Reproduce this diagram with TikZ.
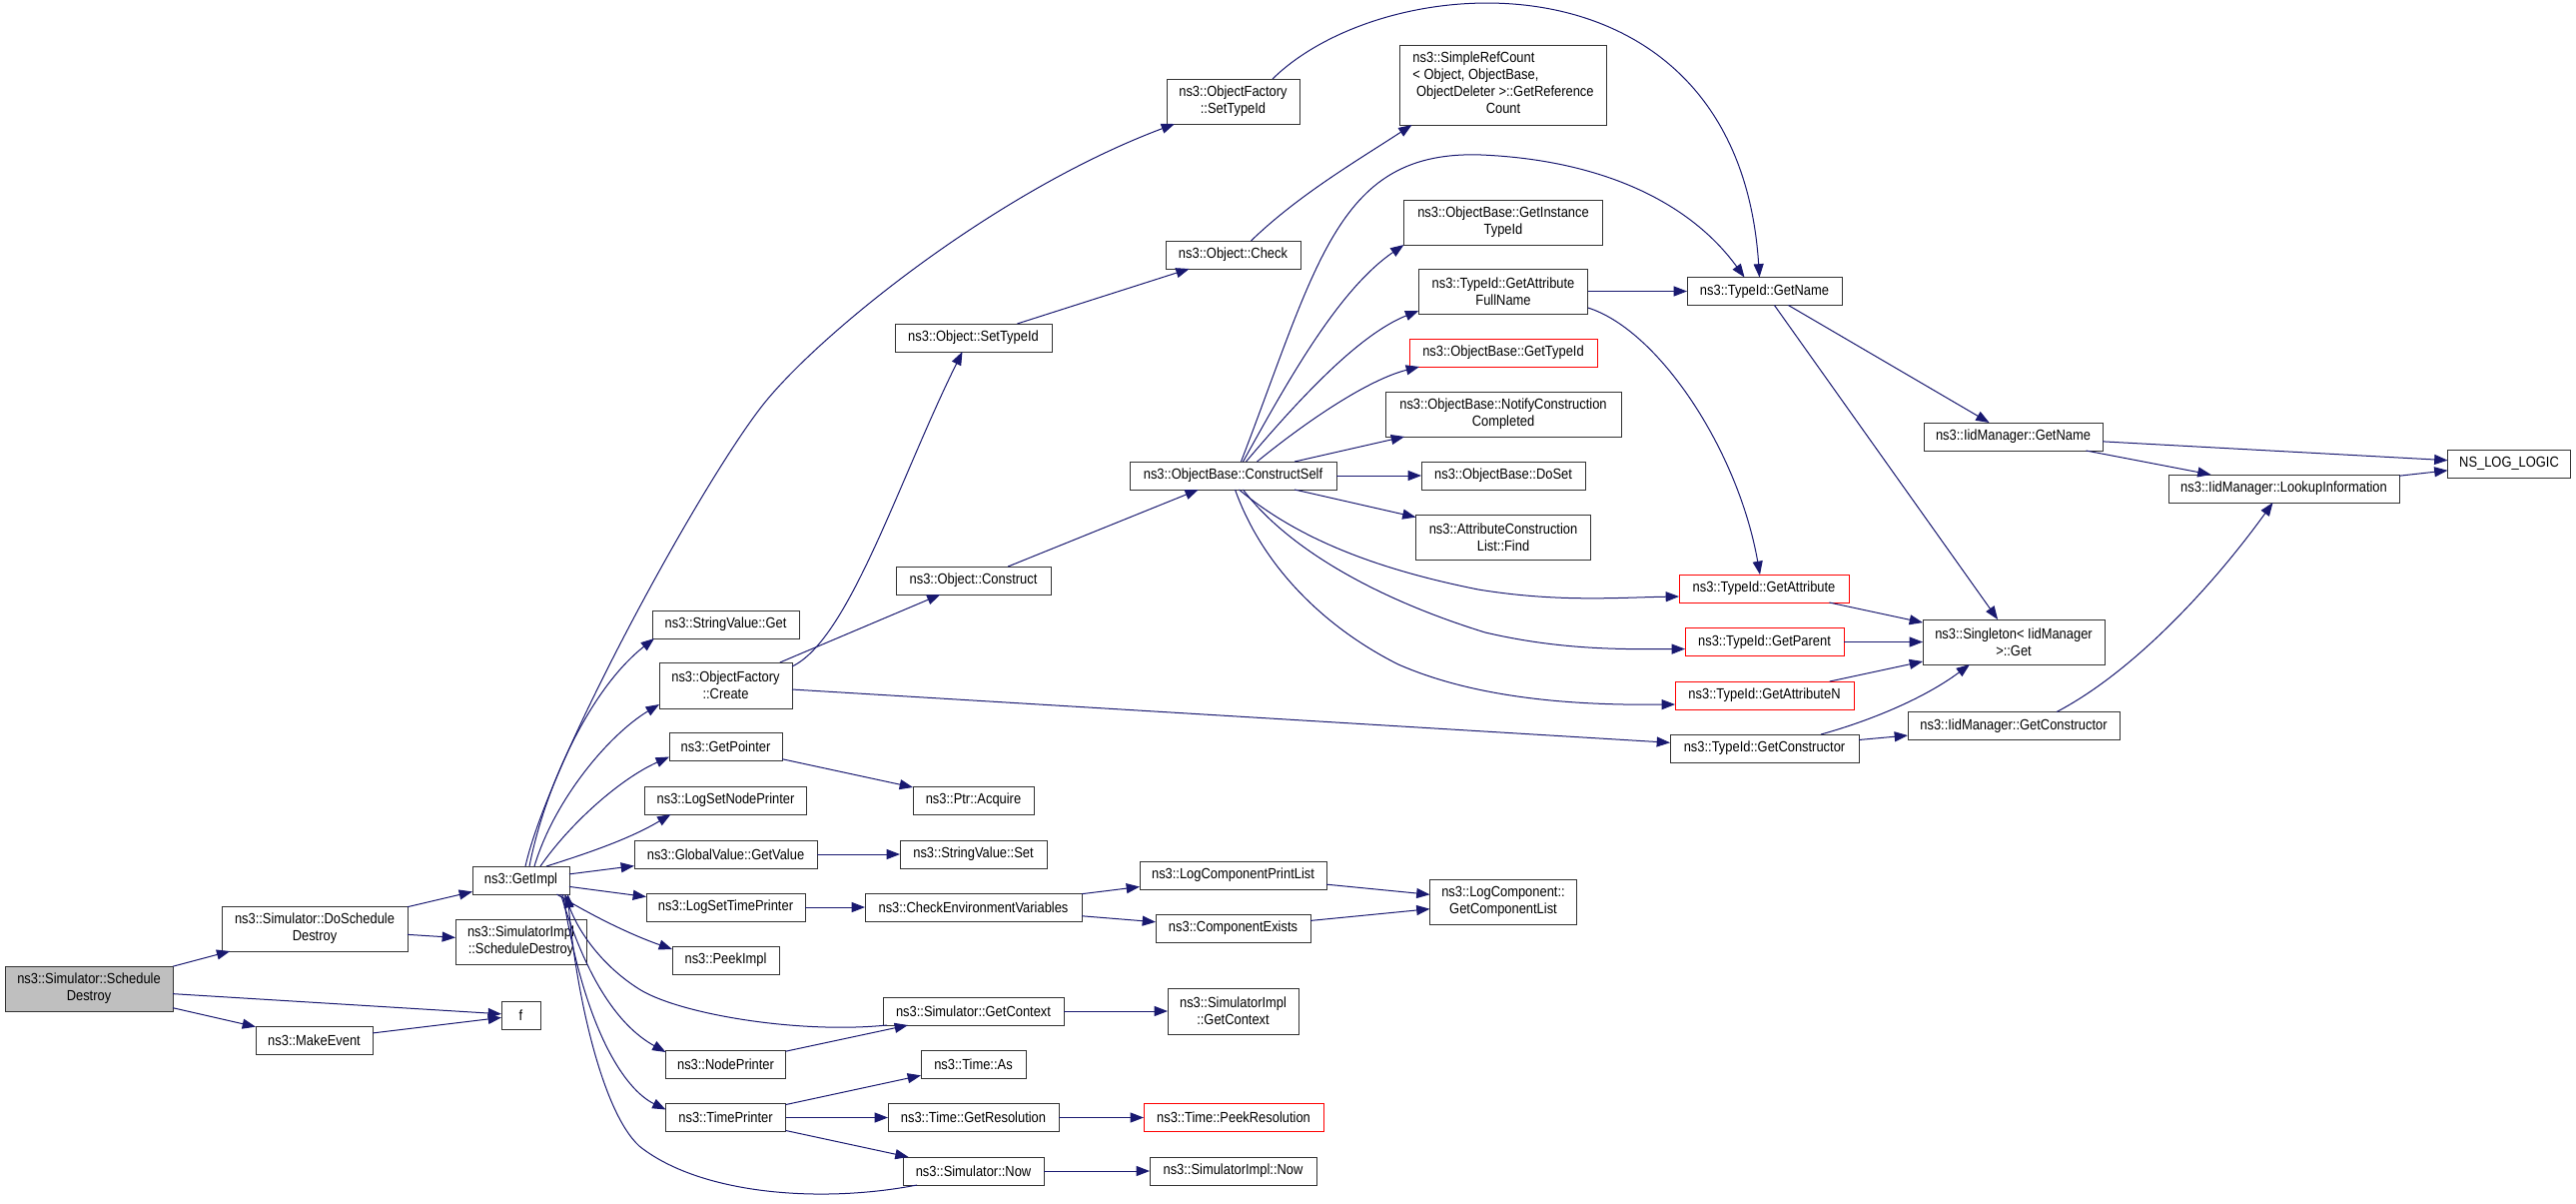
\documentclass[tikz,border=0pt]{standalone}
\usepackage{fontspec}
\newfontfamily\nodefam{Liberation Sans}[FakeStretch=0.88]
\usetikzlibrary{arrows.meta,calc}
\definecolor{edgec}{HTML}{191970}
\definecolor{rootfill}{HTML}{BFBFBF}
\definecolor{boxline}{HTML}{333333}
\definecolor{redline}{HTML}{FF0000}
\newcommand\nodefont{\nodefam\fontsize{11}{12.75}\selectfont}
\begin{document}
\begin{tikzpicture}[x=0.75pt,y=-0.75pt,
  box/.style={draw=boxline,line width=0.75pt,inner sep=0pt,outer sep=0pt,align=center,font=\nodefont,fill=white},
  wh/.style 2 args={minimum width=#1*0.75pt,minimum height=#2*0.75pt},
  redbox/.style={box,draw=redline},
  rootbox/.style={box,fill=rootfill},
  calls/.style={draw=edgec,line width=0.75pt,-{Triangle[length=10pt,width=7.5pt]}}]
\useasboundingbox[fill=white] (0,0) rectangle (2579,1204);

% rank 1-2
\node[rootbox,wh={168}{45}] (SD) at (89,989.5) {ns3::Simulator::Schedule\\Destroy};
\node[box,wh={186}{45}] (DSD) at (315,929.5) {ns3::Simulator::DoSchedule\\Destroy};
\node[box,wh={117}{28}] (ME) at (314.5,1041) {ns3::MakeEvent};
\node[box,wh={97}{28}] (GI) at (521.5,881) {ns3::GetImpl};
\node[box,wh={131}{45}] (SIS) at (521.5,942.5) {ns3::SimulatorImpl\\::ScheduleDestroy};
\node[box,wh={39}{28}] (F) at (521.5,1016) {f};
% rank 3
\node[box,wh={147}{28}] (SVG) at (726.5,625) {ns3::StringValue::Get};
\node[box,wh={133}{46}] (OFC) at (726.5,686) {ns3::ObjectFactory\\::Create};
\node[box,wh={113}{28}] (GP) at (726.5,747.5) {ns3::GetPointer};
\node[box,wh={162}{28}] (LSNP) at (726.5,801) {ns3::LogSetNodePrinter};
\node[box,wh={183}{28}] (GVGV) at (726.5,855) {ns3::GlobalValue::GetValue};
\node[box,wh={159}{28}] (LSTP) at (726.5,908) {ns3::LogSetTimePrinter};
\node[box,wh={107}{28}] (PI) at (726.5,961) {ns3::PeekImpl};
\node[box,wh={120}{28}] (NP) at (726.5,1065) {ns3::NodePrinter};
\node[box,wh={120}{28}] (TP) at (726.5,1118.5) {ns3::TimePrinter};
% rank 4
\node[box,wh={157}{28}] (OST) at (974.5,338) {ns3::Object::SetTypeId};
\node[box,wh={155}{28}] (OC) at (974.5,581) {ns3::Object::Construct};
\node[box,wh={121}{28}] (PA) at (974.5,801) {ns3::Ptr::Acquire};
\node[box,wh={147}{28}] (SVS) at (974.5,855) {ns3::StringValue::Set};
\node[box,wh={217}{28}] (CEV) at (974.5,908) {ns3::CheckEnvironmentVariables};
\node[box,wh={181}{28}] (SGC) at (974.5,1012) {ns3::Simulator::GetContext};
\node[box,wh={105}{28}] (TA) at (974.5,1065) {ns3::Time::As};
\node[box,wh={171}{28}] (TGR) at (974.5,1118.5) {ns3::Time::GetResolution};
\node[box,wh={141}{28}] (SN) at (974.5,1172) {ns3::Simulator::Now};
% rank 5
\node[box,wh={133}{45}] (OFST) at (1234.5,101.5) {ns3::ObjectFactory\\::SetTypeId};
\node[box,wh={135}{28}] (OCk) at (1234.5,255) {ns3::Object::Check};
\node[box,wh={207}{28}] (OBCS) at (1234.5,476) {ns3::ObjectBase::ConstructSelf};
\node[box,wh={187}{28}] (LCPL) at (1234.5,876) {ns3::LogComponentPrintList};
\node[box,wh={155}{28}] (CE) at (1234.5,929) {ns3::ComponentExists};
\node[box,wh={131}{46}] (SIGC) at (1234.5,1012) {ns3::SimulatorImpl\\::GetContext};
\node[redbox,wh={180}{28}] (TPR) at (1235,1118.5) {ns3::Time::PeekResolution};
\node[box,wh={167}{28}] (SIN) at (1234.5,1172) {ns3::SimulatorImpl::Now};
% rank 6
\node[box,wh={207}{80}] (SRC) at (1505,85) {\begin{tabular}{@{}l@{}}ns3::SimpleRefCount\\< Object, ObjectBase,\\\ ObjectDeleter >::GetReference\\\multicolumn{1}{@{}c@{}}{Count}\end{tabular}};
\node[box,wh={199}{45}] (GIT) at (1505,222.5) {ns3::ObjectBase::GetInstance\\TypeId};
\node[box,wh={169.5}{45}] (GAFN) at (1505,291.5) {ns3::TypeId::GetAttribute\\FullName};
\node[redbox,wh={188}{28}] (OBGT) at (1505,353) {ns3::ObjectBase::GetTypeId};
\node[box,wh={236}{45}] (NCC) at (1505,414.5) {ns3::ObjectBase::NotifyConstruction\\Completed};
\node[box,wh={164}{28}] (DS) at (1505,476) {ns3::ObjectBase::DoSet};
\node[box,wh={175}{45}] (ACLF) at (1505,537.5) {ns3::AttributeConstruction\\List::Find};
\node[box,wh={147}{45}] (LCGCL) at (1505,902.5) {ns3::LogComponent::\\GetComponentList};
% rank 7
\node[box,wh={155}{28}] (TGN) at (1766.5,291.5) {ns3::TypeId::GetName};
\node[redbox,wh={170}{28}] (TGA) at (1766,589) {ns3::TypeId::GetAttribute};
\node[redbox,wh={159}{28}] (TGP) at (1766.5,642.5) {ns3::TypeId::GetParent};
\node[redbox,wh={179}{28}] (TGAN) at (1766.5,696) {ns3::TypeId::GetAttributeN};
\node[box,wh={189}{28}] (TGC) at (1766.5,749) {ns3::TypeId::GetConstructor};
% rank 8+
\node[box,wh={179}{28}] (IGN) at (2015.5,437) {ns3::IidManager::GetName};
\node[box,wh={182}{45}] (SG) at (2016,642.5) {ns3::Singleton< IidManager\\>::Get};
\node[box,wh={212}{28}] (IGC) at (2016,726.5) {ns3::IidManager::GetConstructor};
\node[box,wh={231}{28}] (ILI) at (2286.5,489) {ns3::IidManager::LookupInformation};
\node[box,wh={123}{28}] (NLL) at (2512,464) {NS\_LOG\_LOGIC};

% straight edges
\foreach \a/\b in {SD/DSD,SD/F,SD/ME,ME/F,DSD/GI,DSD/SIS,GI/GVGV,GI/LSTP,
  OFC/OC,OFC/TGC,GP/PA,GVGV/SVS,LSTP/CEV,CEV/LCPL,CEV/CE,LCPL/LCGCL,CE/LCGCL,
  NP/SGC,SGC/SIGC,TP/TA,TP/TGR,TP/SN,TGR/TPR,SN/SIN,OC/OBCS,OST/OCk,
  OBCS/NCC,OBCS/DS,OBCS/ACLF,GAFN/TGN,TGN/IGN,TGN/SG,TGA/SG,TGP/SG,TGAN/SG,
  TGC/IGC,IGN/NLL,IGN/ILI,ILI/NLL}
  \draw[calls] (\a) -- (\b);

% curved edges from GetImpl
\draw[calls] ($(GI.north)+(4.5,0)$) .. controls (550,760) and (708,472) .. (768,400)
  .. controls (828,328) and (1000,190) .. ($(OFST.south west)+(8,0)$);
\draw[calls] ($(GI.north)+(8.5,0)$) .. controls (545,790) and (590,690) .. ($(SVG.south west)+(2,0)$);
\draw[calls] ($(GI.north)+(13.5,0)$) .. controls (555,800) and (610,735) .. ($(OFC.south west)+(0,-4)$);
\draw[calls] ($(GI.north)+(19.5,0)$) .. controls (570,825) and (620,780) .. ($(GP.south west)+(0,-4)$);
\draw[calls] ($(GI.north)+(25.5,0)$) .. controls (585,855) and (630,840) .. ($(LSNP.south west)+(26,0)$);
\draw[calls] ($(GI.south)+(36,0)$) .. controls (590,915) and (630,935) .. ($(PI.north west)+(0,3)$);
\draw[calls] ($(GI.south)+(40,0)$) .. controls (590,990) and (625,1030) .. ($(NP.north west)+(0,2)$);
\draw[calls] ($(GI.south)+(42,0)$) .. controls (585,1030) and (625,1090) .. ($(TP.north west)+(0,6)$);
\draw[calls] ($(SGC.south west)+(4,0)$) .. controls (800,1035) and (680,1015) .. (640,990)
  .. controls (605,968) and (580,935) .. ($(GI.south)+(44,0)$);
\draw[calls] ($(SN.south west)+(14,0)$) .. controls (820,1205) and (700,1195) .. (640,1147)
  .. controls (600,1110) and (575,980) .. ($(GI.south)+(47,0)$);

% other curved edges
\draw[calls] ($(OFC.north east)+(0,4)$) .. controls (850,640) and (900,480) .. ($(OST.south)+(-11,0)$);
\draw[calls] ($(OCk.north)+(18,0)$) .. controls (1300,195) and (1360,160) .. ($(SRC.south west)+(12,0)$);
\draw[calls] ($(OFST.north east)+(-27,0)$) .. controls (1390,-35) and (1740,-55) .. ($(TGN.north)+(-5,0)$);
\draw[calls] ($(OBCS.north)+(8,0)$) .. controls (1320,260) and (1340,150) .. (1483,155)
  .. controls (1600,160) and (1690,200) .. ($(TGN.north)+(-20,0)$);
\draw[calls] ($(OBCS.north)+(10,0)$) .. controls (1290,380) and (1340,290) .. (GIT.south west);
\draw[calls] ($(OBCS.north)+(13,0)$) .. controls (1300,400) and (1360,335) .. ($(GAFN.south west)+(0,-3)$);
\draw[calls] ($(OBCS.north)+(24,0)$) .. controls (1310,420) and (1370,380) .. ($(OBGT.south west)+(10,0)$);
\draw[calls] ($(OBCS.south)+(6,0)$) .. controls (1300,540) and (1380,570) .. (1480,590)
  .. controls (1560,603) and (1620,598) .. ($(TGA.west)+(0,8)$);
\draw[calls] ($(OBCS.south)+(10,0)$) .. controls (1290,550) and (1380,600) .. (1487,633)
  .. controls (1560,650) and (1620,650) .. ($(TGP.west)+(0,7)$);
\draw[calls] ($(OBCS.south)+(2,0)$) .. controls (1265,570) and (1330,630) .. (1400,665)
  .. controls (1480,700) and (1580,706) .. ($(TGAN.west)+(0,9)$);
\draw[calls] ($(GAFN.south east)+(0,-6)$) .. controls (1660,330) and (1740,450) .. ($(TGA.north)+(-4,0)$);
\draw[calls] ($(TGC.north east)+(-38,0)$) .. controls (1870,722) and (1925,700) .. ($(SG.south west)+(47,0)$);
\draw[calls] ($(IGC.north)+(43,0)$) .. controls (2140,670) and (2220,580) .. ($(ILI.south)+(-11,0)$);
\end{tikzpicture}
\end{document}
